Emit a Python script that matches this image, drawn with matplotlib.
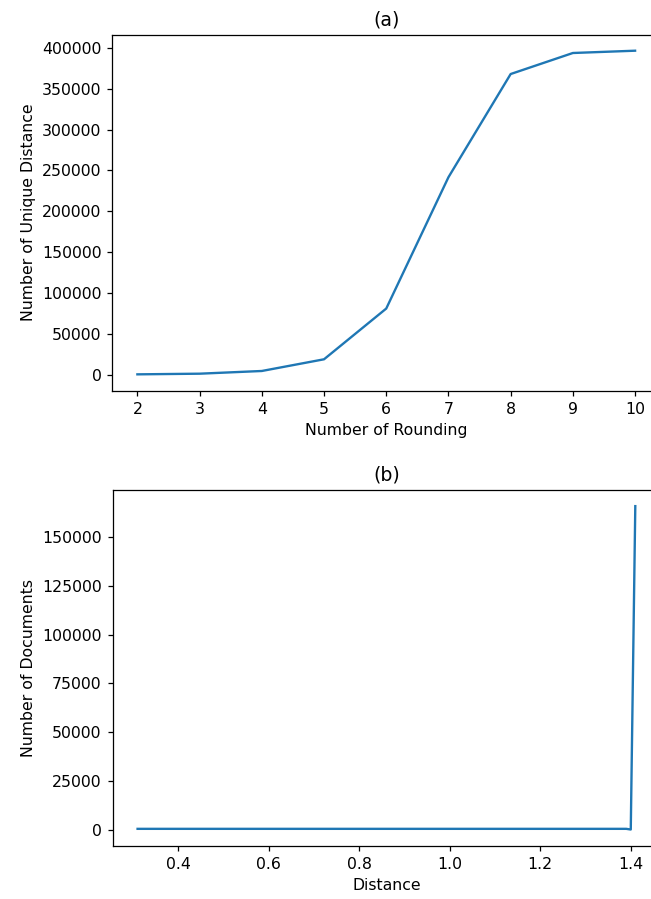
import matplotlib
matplotlib.use('Agg')
import matplotlib.pyplot as plt

# (a) number of unique distances vs rounding digits
rounding = [2, 3, 4, 5, 6, 7, 8, 9, 10]
unique_dist = [800, 1600, 4900, 19200, 81200, 241700, 367800, 393500, 396300]

# (b) number of documents per (rounded) distance
distance = [0.31, 0.35, 0.40, 0.50, 0.60, 0.70, 0.80, 0.90, 1.00, 1.10,
            1.20, 1.30, 1.35, 1.38, 1.39, 1.40, 1.41]
n_docs = [400, 400, 400, 400, 400, 400, 400, 400, 400, 400,
          400, 400, 400, 400, 400, 50, 166000]

## sizes scaled up a bit, the original was a zoomed notebook figure
s = 1.13
plt.rcParams.update({
    'font.size': 10 * s,
    'axes.titlesize': 12 * s,
    'lines.linewidth': 1.5 * s,
    'axes.linewidth': 0.8 * s,
    'xtick.major.size': 3.5 * s,
    'ytick.major.size': 3.5 * s,
    'xtick.major.width': 0.8 * s,
    'ytick.major.width': 0.8 * s,
    'xtick.major.pad': 3.5 * s,
    'ytick.major.pad': 3.5 * s,
    'axes.labelpad': 4.0 * s,
    'axes.titlepad': 6.0 * s,
})

fig = plt.figure(figsize=(6.51, 8.99), dpi=100)

ax1 = fig.add_axes([0.1728, 0.5656, 0.841, 0.396])
ax1.plot(rounding, unique_dist)
ax1.set_title('(a)')
ax1.set_xlabel('Number of Rounding')
ax1.set_ylabel('Number of Unique Distance')

ax2 = fig.add_axes([0.1731, 0.0593, 0.841, 0.3957])
ax2.plot(distance, n_docs)
ax2.set_title('(b)')
ax2.set_xlabel('Distance')
ax2.set_ylabel('Number of Documents')

fig.savefig('out.png', dpi=100)
